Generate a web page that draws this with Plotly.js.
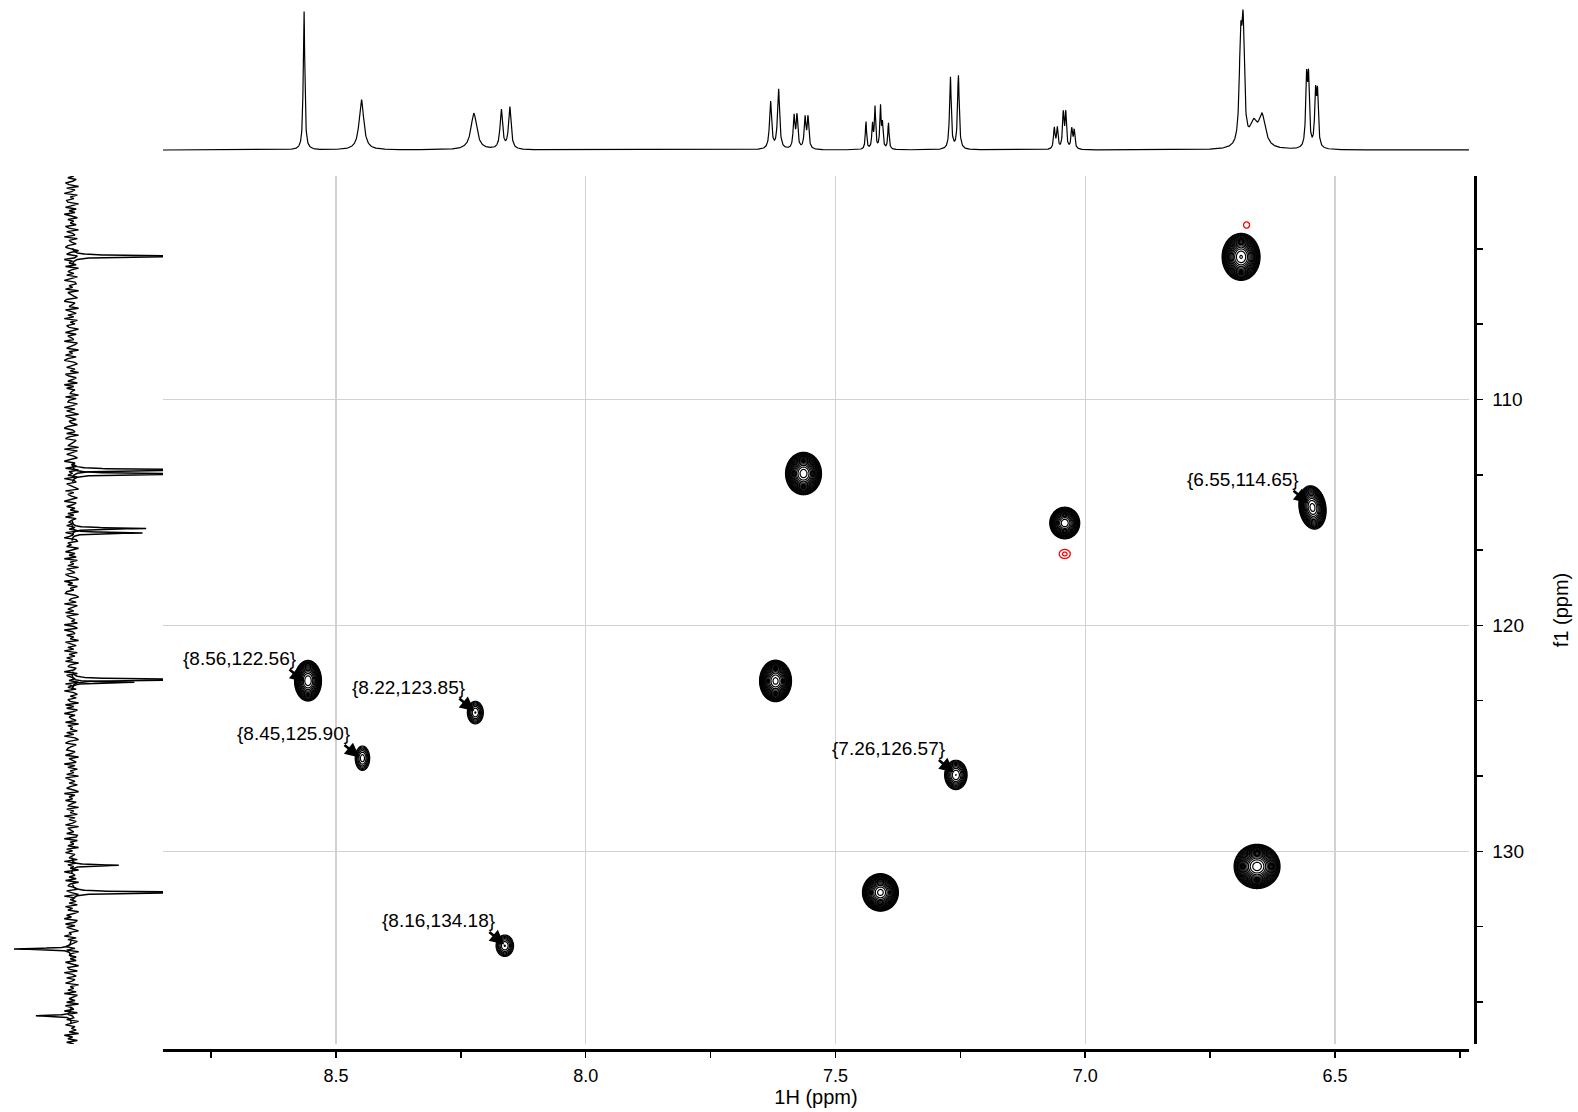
<!DOCTYPE html>
<html><head><meta charset="utf-8">
<script src="https://cdn.plot.ly/plotly-3.0.1.min.js"></script>
<style>html,body{margin:0;padding:0;background:#fff}#chart{width:1578px;height:1112px}</style>
</head><body><div id="chart"></div>
<script>
// ---- HSQC cross peaks (positive phase, black) ----
const crossH = [6.688, 7.564, 7.041, 6.545, 7.620, 8.556, 8.221, 8.447, 7.259, 7.410, 6.656, 8.162];
const crossC = [103.69, 113.28, 115.47, 114.78, 122.46, 122.45, 123.86, 125.88, 126.62, 131.82, 130.67, 134.18];
const crossWidthH = [0.076, 0.072, 0.060, 0.054, 0.064, 0.054, 0.032, 0.029, 0.045, 0.072, 0.092, 0.035];
const crossWidthC = [2.08, 1.88, 1.40, 1.90, 1.84, 1.80, 1.00, 1.08, 1.30, 1.66, 1.96, 0.95];
const crossIntensity = [27, 25, 18, 14, 24, 15, 3.6, 3.3, 6.2, 24, 30, 3.6];
const crossTilt = [0, 0, 0, 0.15, 0, 0, 0, 0, 0, 0, 0, 0];
// ---- negative phase cross peaks (red) ----
const negH = [6.677, 7.041];
const negC = [102.28, 116.84];
const negWidthH = [0.012, 0.022];
const negWidthC = [0.28, 0.40];
const negIntensity = [1.1, 1.25];
// ---- labelled peaks ----
const labelH = [8.56, 8.22, 8.45, 7.26, 6.55, 8.16];
const labelC = [122.56, 123.85, 125.90, 126.57, 114.65, 134.18];
// ---- 1H projection (top) ----
const protonPpm = [8.564, 8.449, 8.224, 8.169, 8.152, 7.630, 7.614, 7.583, 7.577, 7.561, 7.555,
  7.439, 7.426, 7.421, 7.410, 7.406, 7.394, 7.270, 7.254,
  7.062, 7.056, 7.044, 7.039, 7.027, 7.022, 6.689, 6.684, 6.663, 6.646, 6.557, 6.553, 6.539, 6.535];
const protonHeight = [1.00, 0.36, 0.26, 0.28, 0.30, 0.34, 0.43, 0.23, 0.23, 0.22, 0.22,
  0.20, 0.17, 0.30, 0.30, 0.17, 0.19, 0.52, 0.53,
  0.15, 0.15, 0.25, 0.25, 0.14, 0.13, 0.68, 0.78, 0.16, 0.22, 0.47, 0.47, 0.37, 0.37];
const protonWidth = [0.0036, 0.011, 0.014, 0.006, 0.006, 0.005, 0.005, 0.004, 0.004, 0.004, 0.004,
  0.003, 0.003, 0.003, 0.003, 0.003, 0.003, 0.004, 0.004,
  0.0035, 0.0035, 0.0035, 0.0035, 0.0035, 0.0035, 0.006, 0.006, 0.018, 0.016, 0.004, 0.004, 0.004, 0.004];
// ---- 13C projection (left) ----
const carbonPpm = [103.66, 113.12, 113.30, 115.71, 115.91, 122.40, 122.52, 130.62, 131.82, 134.32, 137.28];
const carbonHeight = [1.6, 1.6, 1.6, 0.82, 0.78, 1.6, 0.69, 0.52, 1.6, -0.63, -0.39];
const carbonNoise = [2,-3,4,1,-5,-2,6,-4,3,0,-6,5,-1,2,-4,-3,6,1,-5,4,-2,3,-6,0,5,-3,2,-1,4,-5,-2,6,-4,1,3,-6,5,-2,0,4,
-3,-5,2,6,-1,-4,5,3,-6,1,-2,4,-5,6,0,-3,2,-4,5,-1,-6,3,4,-2,1,-5,6,-3,-1,2,
5,-4,-6,3,1,-2,6,-5,0,4,-3,2,-6,5,-1,3,-4,-2,6,1,-5,4,-3,0,2,-6,5,3,-1,-4,
6,-2,1,-5,4,-3,-6,2,5,0,-4,3,-1,6,-5,-2,4,1,-3,5,-6,2,-4,3,0,-1,6,-5,4,-2,
-3,5,1,-6,3,-4,2,6,-5,-1,4,-2,0,5,-3,-6,1,3,-4,6,-2,-5,4,2,-1,-3,6,-6,5,0,
-4,2,5,-1,-6,3,0,4,-5,6,-2,1,-3,5,-6,2,4,-4,-1,3,
6,-5,2,-3,0,5,-2,-6,4,1,-4,3,-1,6,-3,2,-5,4,0,-2,
1,-4,3,-2,6,-5,2,-1,-6,4,5,-3,0,-4,6,1,-5,3,-2,4,-6,5,-1,2,-3,6,-4,0,3,-5,
-2,4,6,-6,1,-3,5,-1,2,-4,-5,3,6,0,-2,4,-6,5,1,-3,2,-5,6,-4,-1,3,0,5,-6,2,
5,-6,1,3,-4,2,-1,6,-5,0,4,-3,2,-6,5,-2,3,-4,1,-5,
6,-1,-3,4,2,-6,5,-4,0,3,-2,6,-5,1,-3,4,-6,2,5,-1,
4,-3,-1,6,-5,2,-4,5,1,-6,3,-2,0,4,-5,6,-3,1,-1,5,-4,2,-6,3,6,-2,-5,4,0,-3,
-4,3,0,-5,6,-2,1,4,-6,3,-3,5,-1,2,-4,6,-5,0,3,-2,
5,-1,-4,2,6,-6,3,-2,1,-5,4,0,-3,6,-4,2,-1,5,-6,3,-2,4,1,-5,6,-3,0,2,-4,5,
4,-6,5,-1,2,-3,6,-4,1,-5,3,0,-2,5,-6,4,-3,2,-1,6,
-6,1,3,-2,4,-5,6,-1,-3,2,5,-4,0,6,-6,3,-1,4,-2,5,-5,1,-3,6,2,-4,0,-6,5,3,
-5,3,-4,1,6,-2,0,-6,4,-3,5,2,-1,-5,3,-4,6,0,-2,4,
-1,4,-5,2,6,-3,-2,5,-6,1,4,-4,3,0,-5,6,-1,2,-3,4,-6,5,1,-2,3,-4,6,-5,0,2,
-6,5,-3,1,2,-4,6,-1,-5,3,0,4,-2,6,-6,1,-3,5,-4,2];

// ---------- geometry / styling ----------
const W = 1578, H = 1112;
const xRange = [8.8463, 6.2317];
const yRange = [138.53, 100.11];
const xDom = [163 / W, 1469 / W];
const yDom = [1 - 1044 / H, 1 - 176 / H];
const FONT = 'Liberation Sans, Arial, sans-serif';
const levelStep = Math.log(1.2);

function lor(x, p, h, w) { const d = (x - p) / (w / 2); return h / (1 + d * d); }

const traces = [];

// 1H projection
(function () {
  const xs = [], ys = [];
  for (let x = xRange[0]; x >= xRange[1]; x -= 0.0005) {
    let s = 0;
    for (let i = 0; i < protonPpm.length; i++) s += lor(x, protonPpm[i], protonHeight[i], protonWidth[i]);
    xs.push(x); ys.push(s);
  }
  traces.push({ type: 'scatter', mode: 'lines', x: xs, y: ys, xaxis: 'x2', yaxis: 'y2',
    line: { color: '#000', width: 1.2 }, hoverinfo: 'skip' });
})();

// 13C projection: baseline noise + lines
(function () {
  const n = carbonNoise.length;
  const ny = [], nx = [];
  for (let i = 0; i < n; i++) {
    ny.push(yRange[1] + (yRange[0] - yRange[1]) * i / (n - 1));
    nx.push(carbonNoise[i] * 0.013);
  }
  traces.push({ type: 'scatter', mode: 'lines', x: nx, y: ny, xaxis: 'x3', yaxis: 'y3',
    line: { color: '#000', width: 1.4 }, hoverinfo: 'skip' });
  const px = [], py = [];
  for (let i = 0; i < carbonPpm.length; i++) {
    for (let y = carbonPpm[i] - 0.35; y <= carbonPpm[i] + 0.35; y += 0.004) {
      py.push(y); px.push(lor(y, carbonPpm[i], carbonHeight[i], 0.06));
    }
    px.push(null); py.push(null);
  }
  traces.push({ type: 'scatter', mode: 'lines', x: px, y: py, xaxis: 'x3', yaxis: 'y3',
    line: { color: '#000', width: 1.5 }, hoverinfo: 'skip', connectgaps: false });
})();

// contour peaks
function crossTrace(h, c, wH, wC, A, tilt, color, lw) {
  const Rx = wH / 2, Ry = wC / 2, n = 110, L = Math.log(A);
  const xs = [], ys = [], z = [];
  for (let k = 0; k < n; k++) xs.push(h - 1.3 * Rx + 2.6 * Rx * k / (n - 1));
  for (let j = 0; j < n; j++) ys.push(c - 1.3 * Ry + 2.6 * Ry * j / (n - 1));
  for (let j = 0; j < n; j++) {
    const row = [];
    for (let k = 0; k < n; k++) {
      const u = -(xs[k] - h) / Rx, v = (ys[j] - c) / Ry;
      const q = u * u + v * v - 2 * tilt * u * v;
      row.push(L * (1 - q));
    }
    z.push(row);
  }
  return { type: 'contour', x: xs, y: ys, z: z, xaxis: 'x', yaxis: 'y', autocontour: false,
    contours: { start: 0, end: L, size: levelStep, coloring: 'lines', showlabels: false },
    colorscale: [[0, color], [1, color]], showscale: false, line: { width: lw, smoothing: 1 },
    hoverinfo: 'skip' };
}
for (let i = 0; i < crossH.length; i++)
  traces.push(crossTrace(crossH[i], crossC[i], crossWidthH[i], crossWidthC[i], crossIntensity[i], crossTilt[i], '#000', 1.2));
for (let i = 0; i < negH.length; i++)
  traces.push(crossTrace(negH[i], negC[i], negWidthH[i], negWidthC[i], negIntensity[i], 0, '#ff0000', 1.3));

// annotations
const annotations = [];
for (let i = 0; i < labelH.length; i++) {
  const txt = '{' + labelH[i].toFixed(2) + ',' + labelC[i].toFixed(2) + '}';
  annotations.push({ x: labelH[i], y: labelC[i], xref: 'x', yref: 'y', text: '', showarrow: true,
    ax: -18, ay: -15, arrowhead: 2, arrowsize: 1.1, arrowwidth: 2.6, arrowcolor: '#000', standoff: 2 });
  annotations.push({ x: labelH[i], y: labelC[i], xref: 'x', yref: 'y', text: txt, showarrow: false,
    xshift: -67, yshift: 25, font: { family: FONT, size: 19, color: '#000' } });
}

const layout = {
  width: W, height: H, margin: { l: 0, r: 0, t: 0, b: 0 },
  paper_bgcolor: '#fff', plot_bgcolor: 'rgba(0,0,0,0)', showlegend: false,
  font: { family: FONT, size: 18, color: '#000' },
  xaxis: { domain: xDom, range: xRange, anchor: 'free', position: (H - 1050) / H,
    showline: true, linecolor: '#000', linewidth: 2.5, ticks: 'outside', ticklen: 6, tickwidth: 1.5, tickcolor: '#000',
    dtick: 0.5, tick0: 6.5, tickformat: '.1f', ticklabelstandoff: 3,
    minor: { dtick: 0.25, tick0: 6.5, ticks: 'outside', ticklen: 6, tickwidth: 1.5, tickcolor: '#000', showgrid: false },
    showgrid: true, gridcolor: '#d2d2d2', gridwidth: 1.2, zeroline: false,
    tickfont: { family: FONT, size: 18, color: '#000' },
    title: { text: '1H (ppm)', standoff: 4, font: { family: FONT, size: 20, color: '#000' } } },
  yaxis: { domain: yDom, range: yRange, side: 'right', anchor: 'free', position: 1475 / W,
    showline: true, linecolor: '#000', linewidth: 2.5, ticks: 'outside', ticklen: 6, tickwidth: 1.5, tickcolor: '#000',
    dtick: 10, tick0: 110, ticklabelstandoff: 6,
    minor: { dtick: 10 / 3, tick0: 110, ticks: 'outside', ticklen: 6, tickwidth: 1.5, tickcolor: '#000', showgrid: false },
    showgrid: true, gridcolor: '#d2d2d2', gridwidth: 1.2, zeroline: false,
    tickfont: { family: FONT, size: 19, color: '#000' },
    title: { text: 'f1 (ppm)', standoff: 30, font: { family: FONT, size: 20, color: '#000' } } },
  xaxis2: { domain: xDom, range: xRange, anchor: 'y2', visible: false },
  yaxis2: { domain: [1 - 154.2 / H, 1 - 3 / H], range: [-0.03, 1.05], anchor: 'x2', visible: false },
  xaxis3: { domain: [0, 163 / W], range: [-0.78, 1.0], anchor: 'y3', visible: false },
  yaxis3: { domain: yDom, range: yRange, anchor: 'x3', visible: false },
  annotations: annotations
};

Plotly.newPlot('chart', traces, layout, { displayModeBar: false, staticPlot: true });
</script>
</body></html>
